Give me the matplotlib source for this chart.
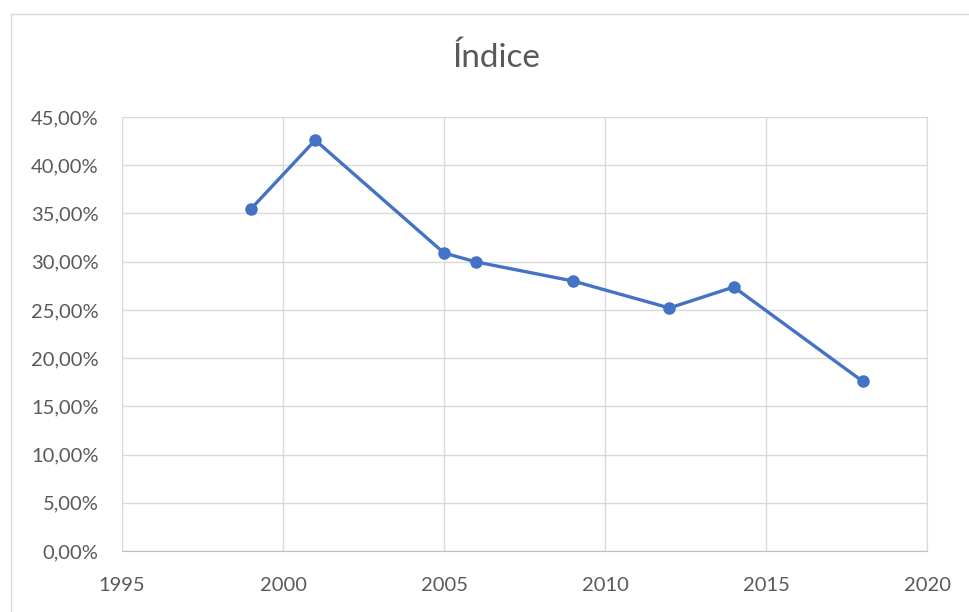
import matplotlib.pyplot as plt
from matplotlib.lines import Line2D
from matplotlib.ticker import FuncFormatter

# datos
anios = [1999, 2001, 2005, 2006, 2009, 2012, 2014, 2018]
indice = [35.45, 42.6, 30.9, 29.97, 28.0, 25.2, 27.37, 17.6]
xticks = [1995, 2000, 2005, 2010, 2015, 2020]
yticks = [0, 5, 10, 15, 20, 25, 30, 35, 40, 45]

plt.rcParams['font.family'] = ['Lato', 'DejaVu Sans']
W, H = 969, 612
fig = plt.figure(figsize=(W / 100, H / 100), dpi=100)
ax = fig.add_axes([122 / W, 1 - 551 / H, (927 - 122) / W, (551 - 117) / H])

ax.plot(anios, indice, color='#4472C4', lw=2.4, marker='o', ms=8, zorder=3)

ax.set_xlim(1995, 2020)
ax.set_ylim(0, 45)
ax.set_xticks(xticks)
ax.set_yticks(yticks)
ax.yaxis.set_major_formatter(FuncFormatter(lambda v, p: f"{v:.2f}".replace('.', ',') + '%'))
ax.grid(True, color='#d9d9d9', lw=1)
ax.set_axisbelow(True)
for s in ['top', 'left']:
    ax.spines[s].set_visible(False)
ax.spines['right'].set_color('#d9d9d9')
ax.spines['bottom'].set_color('#bfbfbf')
ax.tick_params(length=0, labelsize=14.5, colors='#595959')
ax.tick_params(axis='y', pad=17)
ax.tick_params(axis='x', pad=19)

fig.text(497 / W, 1 - 58 / H, 'Índice', ha='center', va='center',
         fontsize=24, color='#595959')

# borde exterior del área del gráfico
fig.add_artist(Line2D([11 / W, 11 / W], [0, 1 - 14 / H], transform=fig.transFigure, color='#d9d9d9', lw=1))
fig.add_artist(Line2D([11 / W, 1], [1 - 14 / H, 1 - 14 / H], transform=fig.transFigure, color='#d9d9d9', lw=1))

fig.savefig('out.png', dpi=100)
